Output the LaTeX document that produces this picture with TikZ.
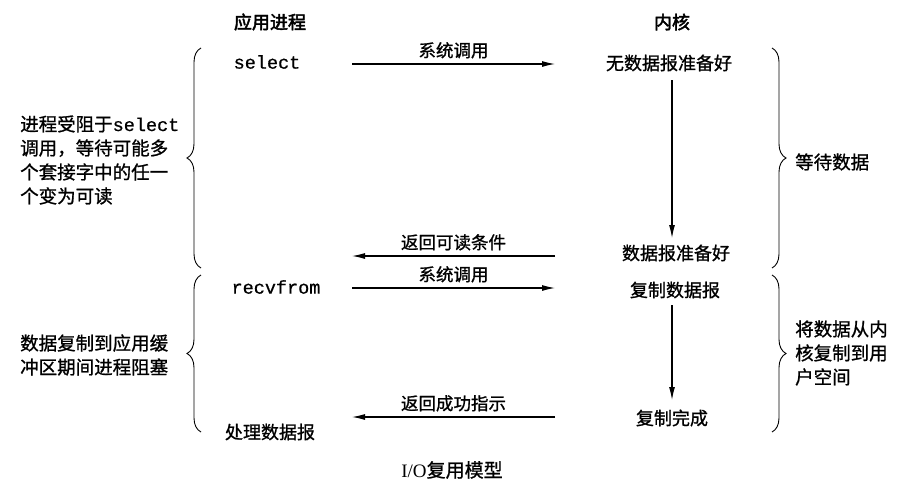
\documentclass[tikz,border=0pt]{standalone}
\usepackage{fontspec}
\setmainfont{Liberation Serif}
\newfontfamily\cjk{Noto Sans CJK SC}[FakeBold=1]
\newfontfamily\cjkb{Noto Sans CJK SC}[FakeBold=2.5]
\newfontfamily\mono{Liberation Mono}[FakeBold=0.6]
\usetikzlibrary{arrows.meta,decorations.pathreplacing}
\begin{document}
\begin{tikzpicture}[x=1pt,y=-1pt,
  txt/.style={font=\cjk\fontsize{18}{24}\selectfont, inner sep=0pt},
  hdr/.style={font=\cjkb\fontsize{18}{24}\selectfont, inner sep=0pt},
  code/.style={font=\mono\fontsize{18.5}{24}\selectfont, inner sep=0pt},
  note/.style={font=\cjk\fontsize{18.5}{24}\selectfont, inner sep=0pt, align=left, anchor=west},
  lbl/.style={font=\cjk\fontsize{17.5}{22}\selectfont, inner sep=0pt, above=5pt, midway},
  arr/.style={line width=1.1pt, -{Latex[length=13pt,width=6pt]}},
  brc/.style={line width=0.9pt, decorate, decoration={brace, amplitude=14pt}}]
\useasboundingbox (0,0) rectangle (907,490);
% headers
\node[hdr] (app) at (270,22) {应用进程};
\node[hdr] (ker) at (672,22) {内核};
% process side
\node[code] (sel) at (267,62) {select};
\node[code] (recv) at (276,287) {recvfrom};
\node[txt] (proc) at (270,432) {处理数据报};
% kernel side
\node[txt] (nodata) at (669,63) {无数据报准备好};
\node[txt] (ready) at (676,253) {数据报准备好};
\node[txt] (copy) at (675,290) {复制数据报};
\node[txt] (done) at (672,418) {复制完成};
% connector ends
\coordinate (a1s) at (352,64);  \coordinate (a1e) at (555,64);
\coordinate (a2s) at (555,256); \coordinate (a2e) at (352,256);
\coordinate (a3s) at (352,288); \coordinate (a3e) at (555,288);
\coordinate (a4s) at (555,417); \coordinate (a4e) at (352,417);
\coordinate (v1s) at (672,80);  \coordinate (v1e) at (672,238);
\coordinate (v2s) at (672,305); \coordinate (v2e) at (672,400);
% horizontal arrows
\draw[arr] (a1s) -- node[lbl] (l1) {系统调用} (a1e);
\draw[arr] (a2s) -- node[lbl] (l2) {返回可读条件} (a2e);
\draw[arr] (a3s) -- node[lbl] (l3) {系统调用} (a3e);
\draw[arr] (a4s) -- node[lbl] (l4) {返回成功指示} (a4e);
% vertical arrows
\draw[arr] (v1s) -- (v1e);
\draw[arr] (v2s) -- (v2e);
% braces
\draw[brc] (201,268) -- (201,48);
\draw[brc] (201,432) -- (201,275);
\draw[brc] (772,48) -- (772,268);
\draw[brc] (772,275) -- (772,432);
% brace notes
\node[note] (n1) at (20,160) {进程受阻于{\mono select}\\调用，等待可能多\\个套接字中的任一\\个变为可读};
\node[note] (n2) at (20,355) {数据复制到应用缓\\冲区期间进程阻塞};
\node[note] (n3) at (795,162) {等待数据};
\node[note] (n4) at (795,353) {将数据从内\\核复制到用\\户空间};
% caption
\node[inner sep=0pt, font=\fontsize{19}{24}\selectfont] (caption) at (452,470) {I/O{\cjk 复用模型}};
\end{tikzpicture}
\end{document}
